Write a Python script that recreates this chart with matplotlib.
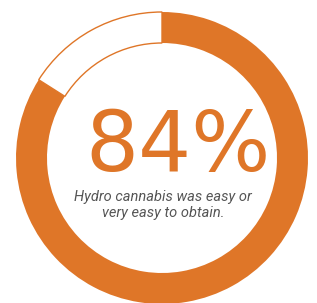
from matplotlib import pyplot as plt

# data
shares = [84, 16]
big_label = '84%'
caption = 'Hydro cannabis was easy or\nvery easy to obtain.'

orange = '#DF7628'

fig = plt.figure(figsize=(3.17, 3.03), dpi=100)
ax = fig.add_axes([0, 0, 1, 1])

# donut: orange part clockwise from 12 o'clock, rest white with thin outline
wedges, _ = ax.pie(shares, center=(162, 145), radius=146, startangle=90,
                   counterclock=False, colors=[orange, 'white'],
                   wedgeprops=dict(width=31, linewidth=0))
wedges[1].set_edgecolor(orange)
wedges[1].set_linewidth(1.0)

ax.text(178, 155, big_label, ha='center', va='center', fontsize=60,
        color=orange, family='DejaVu Sans')
ax.text(163, 98, caption, ha='center', va='center', fontsize=10.5,
        color='#555555', style='italic', family='Roboto', linespacing=1.15)

ax.set_xlim(0, 317)
ax.set_ylim(0, 303)
ax.set_aspect('equal')
ax.axis('off')

fig.savefig('out.png', dpi=100)
